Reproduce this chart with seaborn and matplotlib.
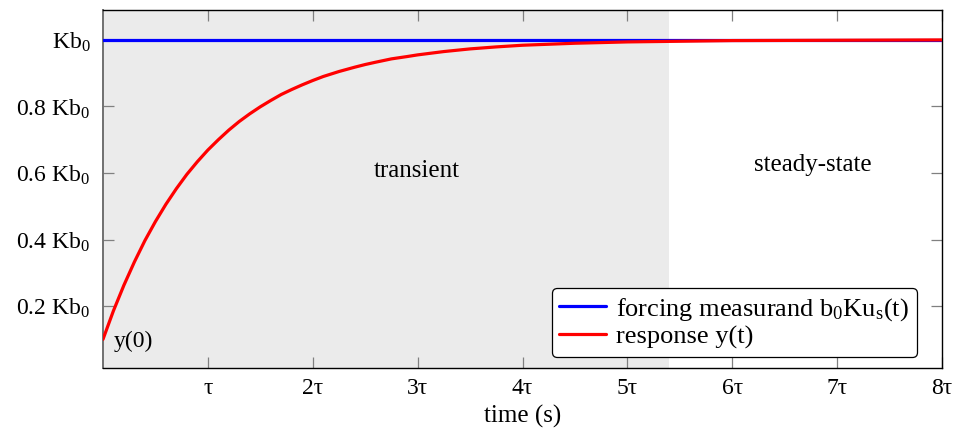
import numpy as np
import pandas as pd
import matplotlib
matplotlib.use("Agg")
import matplotlib.pyplot as plt
import seaborn as sns

# ---- data ----
t_response = [0.0, 0.1, 0.2, 0.3, 0.4, 0.5, 0.6, 0.7, 0.8, 0.9, 1.0,
              1.1, 1.2, 1.3, 1.4, 1.5, 1.6, 1.7, 1.8, 1.9, 2.0, 2.1,
              2.25, 2.4, 2.5, 2.6, 2.75, 2.9, 3.0, 3.25, 3.5, 3.75, 4.0,
              4.5, 5.0, 5.5, 6.0, 7.0, 8.0]
y_response = [0.100, 0.186, 0.263, 0.333, 0.397, 0.454, 0.506, 0.553, 0.596,
              0.634, 0.669, 0.700, 0.729, 0.755, 0.778, 0.799, 0.818, 0.836,
              0.851, 0.865, 0.878, 0.890, 0.905, 0.918, 0.926, 0.933, 0.943,
              0.950, 0.955, 0.965, 0.973, 0.979, 0.984, 0.990, 0.994, 0.996,
              0.998, 0.999, 1.000]
t_forcing = [0.0, 8.0]
y_forcing = [1.0, 1.0]
transient_end = 5.4

x_ticks = [1, 2, 3, 4, 5, 6, 7, 8]
x_ticklabels = ["τ", "2τ", "3τ", "4τ", "5τ", "6τ", "7τ", "8τ"]
y_ticks = [0.2, 0.4, 0.6, 0.8, 1.0]
y_ticklabels = [r"0.2 Kb$_\mathrm{0}$", r"0.4 Kb$_\mathrm{0}$", r"0.6 Kb$_\mathrm{0}$",
                r"0.8 Kb$_\mathrm{0}$", r"Kb$_\mathrm{0}$"]

sns.set_theme(style="white")
plt.rcParams["font.family"] = ["Liberation Serif", "DejaVu Serif"]
plt.rcParams["mathtext.fontset"] = "custom"
plt.rcParams["mathtext.rm"] = "Liberation Serif"
plt.rcParams["mathtext.it"] = "Liberation Serif:italic"
plt.rcParams["text.color"] = "black"
plt.rcParams["axes.labelcolor"] = "black"
plt.rcParams["xtick.color"] = "black"
plt.rcParams["ytick.color"] = "black"

FS_TICK = 17
FS = 18
fig = plt.figure(figsize=(9.56, 4.41), dpi=100)
ax = fig.add_axes([0.1077, 0.1648, 0.8777, 0.8126])

ax.axvspan(0, transient_end, color="#ebebeb", zorder=0, lw=0)

df_f = pd.DataFrame({"t": t_forcing, "y": y_forcing})
df_r = pd.DataFrame({"t": t_response, "y": y_response})
sns.lineplot(data=df_f, x="t", y="y", ax=ax, color="#0000ff", lw=2.3,
             label=r"forcing measurand b$_\mathrm{0}$Ku$_\mathrm{s}$(t)", zorder=3)
sns.lineplot(data=df_r, x="t", y="y", ax=ax, color="#ff0000", lw=2.3,
             label="response y(t)", zorder=4)

ax.set_xlim(0, 8)
ax.set_ylim(0.013, 1.09)
ax.set_xticks(x_ticks)
ax.set_xticklabels(x_ticklabels, fontsize=FS_TICK)
ax.set_yticks(y_ticks)
ax.set_yticklabels(y_ticklabels, fontsize=FS_TICK)
ax.tick_params(axis="both", direction="in", length=8, width=0.9, color="#808080",
               top=True, right=True, bottom=True, left=True, labelcolor="black")
ax.tick_params(axis="x", pad=7)
ax.tick_params(axis="y", pad=9)
ax.set_xlabel("time (s)", fontsize=FS, labelpad=4, color="black")
ax.set_ylabel("")

for s in ["top", "right", "bottom"]:
    ax.spines[s].set_color("black")
    ax.spines[s].set_linewidth(1.0)
ax.spines["left"].set_color("#707070")
ax.spines["left"].set_linewidth(1.4)

ax.text(2.99, 0.605, "transient", fontsize=FS, ha="center", va="center", color="black")
ax.text(6.77, 0.623, "steady-state", fontsize=FS, ha="center", va="center", color="black")
ax.text(0.1, 0.093, "y(0)", fontsize=FS_TICK, ha="left", va="center", color="black")

leg = ax.legend(loc="lower right", bbox_to_anchor=(0.970, 0.0315), borderaxespad=0,
                fontsize=FS + 1, frameon=True, fancybox=True, edgecolor="black",
                framealpha=1, handlelength=1.75, handletextpad=0.4,
                labelspacing=0.1, borderpad=0.3)
leg.get_frame().set_linewidth(0.9)
for txt in leg.get_texts():
    txt.set_color("black")

fig.savefig("out.png", dpi=100)
